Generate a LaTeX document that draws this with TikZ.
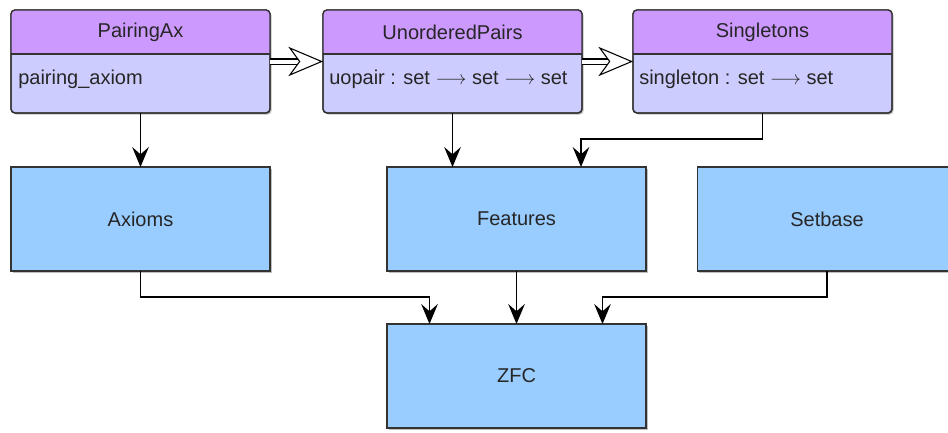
\documentclass[tikz,border=0pt]{standalone}
\usepackage{amsmath}
\usepackage{fontspec}
\setmainfont{Liberation Sans}
\usepackage{tikz}
\usetikzlibrary{positioning,calc,arrows.meta,shadows}

\definecolor{headcol}{HTML}{CC99FF}
\definecolor{bodycol}{HTML}{CCCCFF}
\definecolor{modcol}{HTML}{99CCFF}

\tikzset{
  softshadow/.style={drop shadow={shadow xshift=1.2pt, shadow yshift=-1.2pt, opacity=0.25, fill=black}},
  classbox/.style={draw=black!80, line width=1pt, fill=bodycol, rounded corners=3pt,
    minimum width=194.25pt, minimum height=77.25pt, inner sep=0pt, outer sep=0pt, softshadow},
  modbox/.style={draw=black!80, line width=1pt, fill=modcol,
    minimum width=194.25pt, minimum height=78pt, inner sep=0pt, outer sep=0pt, softshadow,
    font=\fontsize{15}{18}\selectfont, text=black!85},
  titletext/.style={font=\fontsize{15}{18}\selectfont, text=black!85, inner sep=0pt},
  membertext/.style={font=\fontsize{15}{18}\selectfont, text=black!85, inner sep=0pt, anchor=west},
  dep/.style={line width=1pt, -{Stealth[length=15pt, width=12.5pt, inset=5.5pt]}},
  incl/.style={line width=0.8pt, double, double distance=3pt, -{Stealth[open, fill=white, length=26pt, width=22pt, inset=8pt]}}
}

\begin{document}
\begin{tikzpicture}[x=0.75pt, y=-0.75pt]
  \useasboundingbox (0,0) rectangle (948,432);

  % theory boxes with a title bar
  \node[classbox] (pairing) at (140.5,61.5) {};
  \node[classbox] (unordered) at (452.5,61.5) {};
  \node[classbox] (singletons) at (762.5,61.5) {};

  \foreach \n in {pairing, unordered, singletons} {
    \begin{scope}
      \clip (\n.north west) rectangle ($(\n.north east)+(0,44)$);
      \fill[headcol, rounded corners=3pt] (\n.north west) rectangle (\n.south east);
    \end{scope}
    \draw[black!80, line width=1pt] ($(\n.north west)+(0,44)$) -- ($(\n.north east)+(0,44)$);
    \draw[black!80, line width=1pt, rounded corners=3pt] (\n.north west) rectangle (\n.south east);
  }

  \node[titletext] (pairing-t) at (140.5,32.5) {PairingAx};
  \node[titletext] (unordered-t) at (452.5,32.5) {UnorderedPairs};
  \node[titletext] (singletons-t) at (762.5,32.5) {Singletons};

  \node[membertext] (pairing-m) at (18,79) {pairing\_axiom};
  \node[membertext] (unordered-m) at (329,79) {uopair : set $\longrightarrow$ set $\longrightarrow$ set};
  \node[membertext] (singletons-m) at (639,79) {singleton : set $\longrightarrow$ set};

  % modules
  \node[modbox] (axioms) at (140.5,219) {Axioms};
  \node[modbox] (features) at (516.5,219) {Features};
  \node[modbox] (setbase) at (827,219) {Setbase};
  \node[modbox] (zfc) at (516.5,376) {ZFC};

  % inclusions
  \draw[incl] (pairing) -- (unordered);
  \draw[incl] (unordered) -- (singletons);

  % dependencies
  \draw[dep] (pairing) -- (axioms);
  \draw[dep] (unordered.south) -- (unordered.south |- features.north);
  \draw[dep] (singletons.south) -- ++(0,26) -| ($(features.north)+(64.5,0)$);
  \draw[dep] (axioms.south) -- ++(0,26) -| ($(zfc.north)+(-87,0)$);
  \draw[dep] (features) -- (zfc);
  \draw[dep] (setbase.south) -- ++(0,26) -| ($(zfc.north)+(86,0)$);
\end{tikzpicture}
\end{document}
